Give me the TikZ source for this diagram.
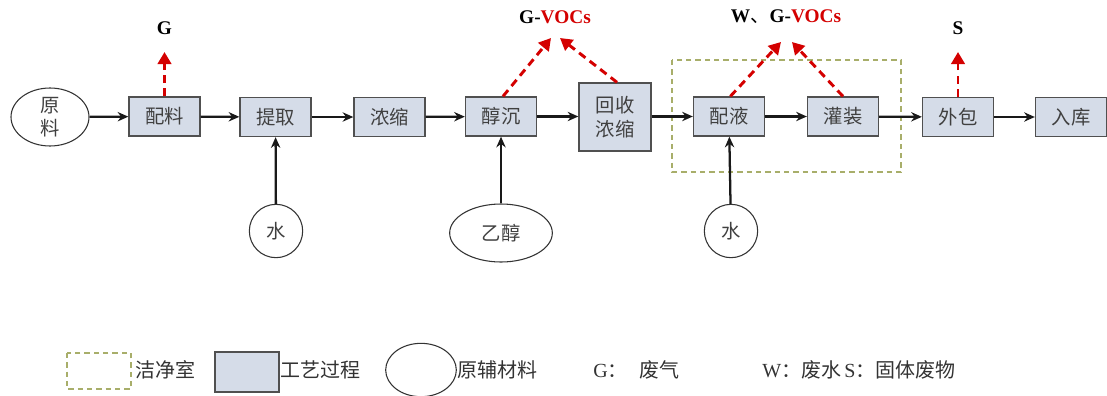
\documentclass[tikz,border=0pt]{standalone}
\usepackage{fontspec}
\setmainfont{Liberation Serif}
\newfontfamily\cjk{Noto Sans CJK SC}
\usetikzlibrary{arrows.meta,shapes.geometric}
\definecolor{boxfill}{HTML}{D5DCE8}
\definecolor{boxline}{HTML}{505050}
\definecolor{redarr}{HTML}{D40000}
\definecolor{cleanline}{HTML}{A8AE6A}
\tikzset{
  procbox/.style={draw=boxline,line width=1pt,fill=boxfill,minimum width=53.25pt,minimum height=29.25pt,inner sep=0pt,font=\cjk\fontsize{14.5}{16}\selectfont,text=black!75},
  rawell/.style={draw=black!80,line width=0.8pt,ellipse,inner sep=0pt,font=\cjk\fontsize{14.5}{16}\selectfont,text=black!75},
  flow/.style={draw=black!90,line width=1.7pt,-{Stealth[length=8pt,width=7pt]}},
  emis/.style={draw=redarr,line width=2.2pt,dash pattern=on 6pt off 4pt,-{Triangle[length=9pt,width=10pt]}},
  cleanroom/.style={draw=cleanline,line width=0.8pt,dash pattern=on 4pt off 3pt},
  lbl/.style={font=\bfseries\fontsize{14.5}{16}\selectfont,inner sep=0pt},
  legtext/.style={font=\cjk\fontsize{15}{17}\selectfont,text=black!80,anchor=west,inner sep=0pt}
}
\begin{document}
\begin{tikzpicture}[x=0.75pt,y=-0.75pt]
\useasboundingbox (0,0) rectangle (1107,396);
% clean room
\draw[cleanroom] (672,60) rectangle (901,172);
% nodes
\node[rawell,minimum width=58.5pt,minimum height=43.5pt,align=center] (yl) at (50,117) {原\\[1pt]料};
\node[procbox] (pl) at (164.5,116.5) {配料};
\node[procbox] (tq) at (275.5,117) {提取};
\node[procbox] (ns) at (389.5,117) {浓缩};
\node[procbox] (cc) at (501,116.5) {醇沉};
\node[procbox,minimum width=54pt,minimum height=51pt,align=center] (hs) at (615,117) {回收\\[2pt]浓缩};
\node[procbox] (py) at (729,116.5) {配液};
\node[procbox] (gz) at (843,116.5) {灌装};
\node[procbox] (wb) at (958,117) {外包};
\node[procbox] (rk) at (1071,117) {入库};
\node[rawell,circle,minimum size=40pt] (s1) at (276,231) {水};
\node[rawell,minimum width=77pt,minimum height=43.5pt] (yc) at (501,233) {乙醇};
\node[rawell,circle,minimum size=40pt] (s2) at (731,231) {水};
% main flow
\draw[flow] (yl) -- (pl);
\draw[flow] (pl) -- (tq);
\draw[flow] (tq) -- (ns);
\draw[flow] (ns) -- (cc);
\draw[flow] (cc) -- (hs.west |- cc);
\draw[flow] (hs.east |- py) -- (py);
\draw[flow] (py) -- (gz);
\draw[flow] (gz) -- (wb);
\draw[flow] (wb) -- (rk);
\draw[flow] (s1) -- (tq);
\draw[flow] (yc) -- (cc);
\draw[flow] (s2) -- (py);
% emissions
\coordinate (e1) at (164.5,52);
\coordinate (e2a) at (551,38);
\coordinate (e2b) at (560,38);
\coordinate (e3a) at (781,42);
\coordinate (e3b) at (792,42);
\coordinate (e4) at (958,52);
\draw[emis] (pl.north) -- (e1);
\draw[emis] ([xshift=1.5pt]cc.north) -- (e2a);
\draw[emis] ([xshift=1.5pt]hs.north) -- (e2b);
\draw[emis] ([xshift=1pt]py.north) -- (e3a);
\draw[emis] (gz.north) -- (e3b);
\draw[emis] (wb.north) -- (e4);
\node[lbl] (lg) at (164.5,28) {G};
\node[lbl] (lvoc1) at (555,17) {G-\textcolor{redarr}{VOCs}};
\node[lbl] (lvoc2) at (786,17) {W{\cjk\mdseries 、}G-\textcolor{redarr}{VOCs}};
\node[lbl] (ls) at (958,28) {S};
% legend
\draw[cleanroom] (67,353) rectangle (131,389);
\node[legtext] (t1) at (135,370) {洁净室};
\draw[draw=boxline,line width=1pt,fill=boxfill] (215,352) rectangle (279,392);
\node[legtext] (t2) at (280,370) {工艺过程};
\node[draw=black!80,line width=0.8pt,ellipse,minimum width=53pt,minimum height=40pt,inner sep=0pt] (le) at (421,370) {};
\node[legtext] (t3) at (457,370) {原辅材料};
\node[legtext,font=\fontsize{15}{17}\selectfont] (t4) at (593,370) {G{\cjk ：}\hspace{0.6em}{\cjk 废气}};
\node[legtext,font=\fontsize{15}{17}\selectfont] (t5) at (762,370) {W{\cjk ：废水}\,S{\cjk ：固体废物}};
\end{tikzpicture}
\end{document}
